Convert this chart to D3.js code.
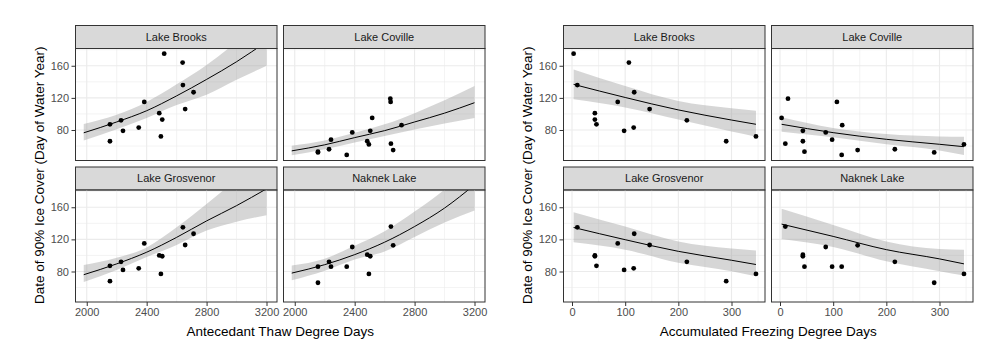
<!DOCTYPE html>
<html>
<head>
<meta charset="utf-8">
<script src="https://cdn.jsdelivr.net/npm/d3@7"></script>
<style>
    body { margin: 0; background: #fff; }
    text { font-family: "Liberation Sans", Arial, sans-serif; }
</style>
</head>
<body>
<div id="chart"></div>
<script>
const lakes = ['Lake Brooks', 'Lake Coville', 'Lake Grosvenor', 'Naknek Lake'];

// one entry per winter, shared by all lakes
const thawDegreeDays = [2517, 2640, 2638, 2713, 2384, 2657, 2484, 2504, 2229, 2155, 2347, 2242, 2495, 2155, 2642];
const freezeDegreeDays = [3, 107, 15, 117, 86, 146, 43, 43, 216, 46, 116, 98, 346, 290, 10];

// date of 90% ice cover (day of water year), null = no record
const brooksIce = [175, 164, null, 127, 115, 106, 101, 93, 92, 87, 83, 79, 72, 66, 136];
const covilleIce = [95, 115, 119, 86, 77, 55, 66, 79, 56, 53, 49, 68, 62, 52, 63];
const grosvenorIce = [null, null, null, 127, 115, 113, 100, 99, 92, 87, 84, 82, 77, 68, 135];
const naknekIce = [null, null, null, null, 110.5, 112.6, 101, 99, 92, 86, 86, 86, 77, 66, 136];

// fitted curves and confidence bands
const thawGrid = [1980, 2200, 2400, 2600, 2800, 3000, 3200];
const brooksThawFit = [76.5, 90, 104, 122.5, 143, 165, 190];
const brooksThawHi = [87.5, 99, 115, 137, 161, 190, 225];
const brooksThawLo = [67, 81, 95, 111, 124, 142.5, 160];
const covilleThawFit = [54, 61.5, 70.5, 79.2, 90, 101, 114];
const covilleThawHi = [60.5, 67, 76.5, 87, 101, 117, 134.7];
const covilleThawLo = [48.5, 56, 64.5, 72.5, 80.5, 88, 95];
const grosvenorThawFit = [76, 89.5, 104, 122.5, 143, 162, 183];
const grosvenorThawHi = [88, 97, 110, 135, 164, 195, 228];
const grosvenorThawLo = [67, 82, 98, 113, 131, 142, 150];
const naknekThawFit = [78, 88.5, 101, 116.5, 136, 159, 188];
const naknekThawHi = [87.4, 96, 112, 130, 154.6, 182, 215];
const naknekThawLo = [69, 81, 95, 105, 123, 141, 156];

const freezeGrid = [3, 100, 200, 300, 346];
const brooksFreezeFit = [136.8, 120.5, 105, 92.4, 87.1];
const brooksFreezeHi = [155.5, 134.7, 116, 107, 104];
const brooksFreezeLo = [118.2, 108, 93, 78, 71.7];
const covilleFreezeFit = [87.1, 76.7, 68.4, 62.2, 59.2];
const covilleFreezeHi = [95.8, 82.5, 75, 72, 71.7];
const covilleFreezeLo = [77.9, 70.9, 62.3, 54.5, 48.9];
const grosvenorFreezeFit = [134.8, 119.6, 105.1, 94, 88.7];
const grosvenorFreezeHi = [153.9, 136, 117.5, 108.5, 106];
const grosvenorFreezeLo = [116.3, 107.2, 90.8, 80.4, 74.2];
const naknekFreezeFit = [139, 123.7, 107.2, 95.7, 89.5];
const naknekFreezeHi = [158, 138, 117.5, 108, 107.2];
const naknekFreezeLo = [120.4, 110.5, 92.7, 80.4, 75];

const yTicks = [80, 120, 160];
const yMinor = [60, 100, 140, 180];

const iceByLake = [brooksIce, covilleIce, grosvenorIce, naknekIce];

const thawFits = [
    [brooksThawFit, brooksThawHi, brooksThawLo],
    [covilleThawFit, covilleThawHi, covilleThawLo],
    [grosvenorThawFit, grosvenorThawHi, grosvenorThawLo],
    [naknekThawFit, naknekThawHi, naknekThawLo],
];
const freezeFits = [
    [brooksFreezeFit, brooksFreezeHi, brooksFreezeLo],
    [covilleFreezeFit, covilleFreezeHi, covilleFreezeLo],
    [grosvenorFreezeFit, grosvenorFreezeHi, grosvenorFreezeLo],
    [naknekFreezeFit, naknekFreezeHi, naknekFreezeLo],
];

const width = 1000;
const height = 361;
const panelW = 201.5;
const panelH = 112;
const stripH = 23;
const colGap = 6.5;
const rowTops = [25.5, 167];

const svg = d3
    .select('#chart')
    .append('svg')
    .attr('width', width)
    .attr('height', height);

function drawBlock(blockId, left, xDomain, xTicks, xMinor, xValues, grid, fits, xTitle) {
    lakes.forEach((lake, i) => {
        const col = i % 2;
        const row = Math.floor(i / 2);
        const px = left + col * (panelW + colGap);
        const stripTop = rowTops[row];
        const py = stripTop + stripH;

        const x = d3.scaleLinear().domain(xDomain).range([px, px + panelW]);
        const y = d3.scaleLinear().domain([42, 181.5]).range([py + panelH, py]);

        const g = svg.append('g');

        // strip
        g.append('rect')
            .attr('x', px)
            .attr('y', stripTop)
            .attr('width', panelW)
            .attr('height', stripH)
            .attr('fill', '#D9D9D9')
            .attr('stroke', '#333333')
            .attr('stroke-width', 1);
        g.append('text')
            .attr('x', px + panelW / 2)
            .attr('y', stripTop + stripH / 2)
            .attr('dy', '0.35em')
            .attr('text-anchor', 'middle')
            .style('font-size', '11px')
            .attr('fill', '#1A1A1A')
            .text(lake);

        // grid
        const clipId = `clip-${blockId}-${i}`;
        g.append('clipPath')
            .attr('id', clipId)
            .append('rect')
            .attr('x', px)
            .attr('y', py)
            .attr('width', panelW)
            .attr('height', panelH);

        const inner = g.append('g').attr('clip-path', `url(#${clipId})`);

        inner.selectAll('.vminor')
            .data(xMinor)
            .enter()
            .append('line')
            .attr('x1', (d) => x(d))
            .attr('x2', (d) => x(d))
            .attr('y1', py)
            .attr('y2', py + panelH)
            .attr('stroke', '#EBEBEB')
            .attr('stroke-width', 0.6);
        inner.selectAll('.hminor')
            .data(yMinor)
            .enter()
            .append('line')
            .attr('x1', px)
            .attr('x2', px + panelW)
            .attr('y1', (d) => y(d))
            .attr('y2', (d) => y(d))
            .attr('stroke', '#EBEBEB')
            .attr('stroke-width', 0.6);
        inner.selectAll('.vmajor')
            .data(xTicks)
            .enter()
            .append('line')
            .attr('x1', (d) => x(d))
            .attr('x2', (d) => x(d))
            .attr('y1', py)
            .attr('y2', py + panelH)
            .attr('stroke', '#EBEBEB')
            .attr('stroke-width', 1.1);
        inner.selectAll('.hmajor')
            .data(yTicks)
            .enter()
            .append('line')
            .attr('x1', px)
            .attr('x2', px + panelW)
            .attr('y1', (d) => y(d))
            .attr('y2', (d) => y(d))
            .attr('stroke', '#EBEBEB')
            .attr('stroke-width', 1.1);

        // fitted curve with band
        const [fit, hi, lo] = fits[i];
        const band = grid.map((gx, k) => ({ x: gx, fit: fit[k], hi: hi[k], lo: lo[k] }));

        inner.append('path')
            .datum(band)
            .attr('fill', '#999999')
            .attr('fill-opacity', 0.4)
            .attr('d', d3.area()
                .x((d) => x(d.x))
                .y0((d) => y(d.lo))
                .y1((d) => y(d.hi))
                .curve(d3.curveMonotoneX));

        inner.append('path')
            .datum(band)
            .attr('fill', 'none')
            .attr('stroke', 'black')
            .attr('stroke-width', 1)
            .attr('d', d3.line()
                .x((d) => x(d.x))
                .y((d) => y(d.fit))
                .curve(d3.curveMonotoneX));

        // observations
        const pts = xValues
            .map((xv, k) => ({ x: xv, y: iceByLake[i][k] }))
            .filter((d) => d.y !== null);

        inner.selectAll('circle')
            .data(pts)
            .enter()
            .append('circle')
            .attr('cx', (d) => x(d.x))
            .attr('cy', (d) => y(d.y))
            .attr('r', 2.4)
            .attr('fill', 'black');

        // border
        g.append('rect')
            .attr('x', px)
            .attr('y', py)
            .attr('width', panelW)
            .attr('height', panelH)
            .attr('fill', 'none')
            .attr('stroke', '#333333')
            .attr('stroke-width', 1);

        // axes
        if (row === 1) {
            const ax = g.append('g')
                .attr('transform', `translate(0,${py + panelH})`)
                .call(d3.axisBottom(x).tickValues(xTicks).tickFormat(d3.format('d')).tickSize(4).tickPadding(2.5));
            ax.select('.domain').remove();
            ax.selectAll('line').attr('stroke', '#333333');
            ax.selectAll('text')
                .attr('fill', '#4D4D4D')
                .style('font-size', '11px')
                .style('font-family', '"Liberation Sans", Arial, sans-serif');
        }
        if (col === 0) {
            const ay = g.append('g')
                .attr('transform', `translate(${px},0)`)
                .call(d3.axisLeft(y).tickValues(yTicks).tickFormat(d3.format('d')).tickSize(4).tickPadding(2.5));
            ay.select('.domain').remove();
            ay.selectAll('line').attr('stroke', '#333333');
            ay.selectAll('text')
                .attr('fill', '#4D4D4D')
                .style('font-size', '11px')
                .style('font-family', '"Liberation Sans", Arial, sans-serif');
        }
    });

    const blockW = 2 * panelW + colGap;

    svg.append('text')
        .attr('x', left + blockW / 2)
        .attr('y', 336)
        .attr('text-anchor', 'middle')
        .style('font-size', '13.5px')
        .attr('fill', 'black')
        .text(xTitle);

    svg.append('text')
        .attr('transform', `translate(${left - 32},${(rowTops[0] + stripH + rowTops[1] + stripH + panelH) / 2}) rotate(-90)`)
        .attr('text-anchor', 'middle')
        .style('font-size', '13.5px')
        .attr('fill', 'black')
        .text('Date of 90% Ice Cover (Day of Water Year)');
}

drawBlock('thaw', 75.5, [1925, 3270], [2000, 2400, 2800, 3200], [2200, 2600, 3000],
    thawDegreeDays, thawGrid, thawFits, 'Antecedant Thaw Degree Days');

drawBlock('freeze', 563.5, [-16, 363], [0, 100, 200, 300], [50, 150, 250, 350],
    freezeDegreeDays, freezeGrid, freezeFits, 'Accumulated Freezing Degree Days');
</script>
</body>
</html>
